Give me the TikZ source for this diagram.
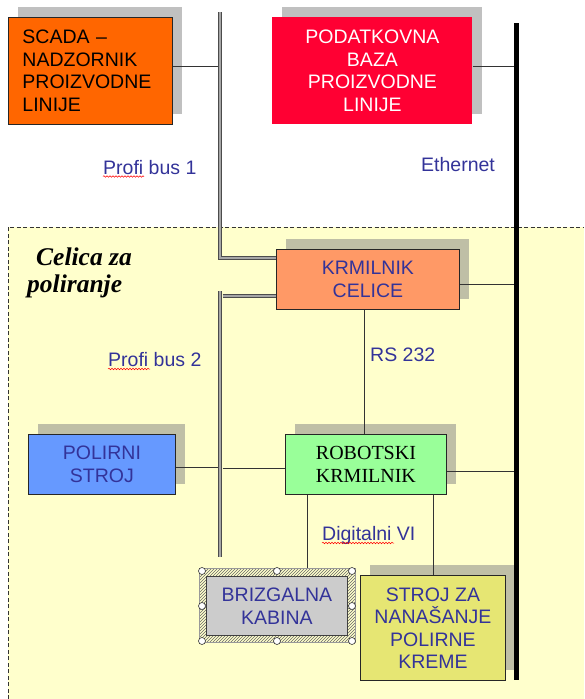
\documentclass[tikz,border=0pt]{standalone}
\usepackage{fontspec}
\setmainfont{Liberation Sans}
\newfontfamily\myserif{Liberation Serif}
\usetikzlibrary{shadows,patterns,decorations.pathmorphing}
\definecolor{bgyellow}{HTML}{FFFFCC}
\definecolor{shwhite}{HTML}{C0C0C0}
\definecolor{shyellow}{RGB}{191,191,166}
\definecolor{scadaor}{HTML}{FF6600}
\definecolor{podred}{HTML}{FF0033}
\definecolor{krmsal}{HTML}{FF9966}
\definecolor{polblue}{HTML}{6699FF}
\definecolor{robgreen}{HTML}{99FF99}
\definecolor{brizgray}{HTML}{CCCCCC}
\definecolor{strojyel}{RGB}{230,230,115}
\definecolor{txtblue}{HTML}{333399}
\begin{document}
\begin{tikzpicture}[x=1pt,y=-1pt,
  box/.style={draw=black!85, line width=0.9pt, inner sep=0pt, align=center,
    anchor=north west, text=txtblue, font=\fontsize{19.5}{22.5}\selectfont},
  shw/.style={drop shadow={shadow xshift=10pt, shadow yshift=10pt, fill=shwhite, opacity=1}},
  shy/.style={drop shadow={shadow xshift=10pt, shadow yshift=10pt, fill=shyellow, opacity=1}},
  lbl/.style={text=txtblue, inner sep=0pt, anchor=base west, font=\fontsize{19.5}{22.5}\selectfont},
  celfont/.style={inner sep=0pt, anchor=base west, font=\myserif\bfseries\itshape\fontsize{25.5}{28}\selectfont},
  bus/.style={draw=black!70, double=black!35, line width=1.1pt, double distance=1.8pt},
  conn/.style={draw=black!80, line width=1pt},
  squig/.style={draw=red, line width=0.5pt, decorate, decoration={snake, amplitude=0.8pt, segment length=3pt}},
  handle/.style={fill=white, draw=black!80, line width=0.6pt}]
\useasboundingbox (0,0) rectangle (584,699);
% cell background
\fill[bgyellow] (8,227) rectangle (584,699);
\draw[black!80, line width=0.9pt, dash pattern=on 4pt off 2.5pt] (8,699) -- (8,227) -- (584,227);

% boxes
\node[box, shw, fill=scadaor, text=black, align=left, text width=136pt,
  minimum width=164pt, minimum height=107pt] (scada) at (8,17)
  {SCADA –\\NADZORNIK\\PROIZVODNE\\LINIJE};
\node[box, shw, fill=podred, draw=none, text=white,
  minimum width=200pt, minimum height=107pt] (pod) at (272,17)
  {PODATKOVNA\\BAZA\\PROIZVODNE\\LINIJE};
\node[box, shy, fill=krmsal, minimum width=183pt, minimum height=60pt] (krm) at (276,249)
  {KRMILNIK\\CELICE};
\node[box, shy, fill=polblue, minimum width=147pt, minimum height=60pt] (pol) at (28,434)
  {POLIRNI\\STROJ};
\node[box, shy, fill=robgreen, text=black, font=\myserif\fontsize{20}{22.5}\selectfont,
  minimum width=161pt, minimum height=60pt] (rob) at (285,434)
  {ROBOTSKI\\KRMILNIK};
\node[box, shy, fill=strojyel, minimum width=145pt, minimum height=105pt] (stroj) at (360,575)
  {STROJ ZA\\NANAŠANJE\\POLIRNE\\KREME};
% selected (hatched) frame and the spray booth
\node[anchor=north west, inner sep=0pt, draw=black!40, line width=0.4pt,
  pattern=north east lines, pattern color=black!60,
  minimum width=156pt, minimum height=74pt] (brizsel) at (199,568) {};
\node[box, fill=brizgray, draw=black!75, minimum width=141pt, minimum height=59pt] (briz) at (206,576)
  {BRIZGALNA\\KABINA};

% labels
\node[lbl] (pb1) at (103,174) {Profi bus 1};
\node[lbl] (eth) at (421,171.5) {Ethernet};
\node[lbl] (pb2) at (108,366.5) {Profi bus 2};
\node[lbl] (rs232) at (370,361.5) {RS 232};
\node[lbl] (dig) at (322,540.5) {Digitalni VI};
\node[celfont] (cel1) at (36,265) {Celica za};
\node[celfont] (cel2) at (27,292) {poliranje};
\draw[squig] ([yshift=-2.5pt]pb1.base west) -- ++(41,0);
\draw[squig] ([yshift=-2.5pt]pb2.base west) -- ++(42,0);
\draw[squig] ([yshift=-2.5pt]dig.base west) -- ++(72,0);

% buses
\coordinate (b1t) at (220,12);
\coordinate (b1c) at (220,258);
\draw[bus] (b1t) -- (b1c) -- (b1c -| krm.west);
\coordinate (b2t) at (220,291);
\coordinate (b2b) at (220,557);
\draw[bus] (b2t) -- (b2b);
\coordinate (b2h) at (222.5,296);
\draw[bus] (b2h) -- (b2h -| krm.west);
\coordinate (et) at (516,23);
\coordinate (eb) at (516,680);
\draw[line width=5pt] (et) -- (eb);

% connectors
\coordinate (s1) at (218,66);
\draw[conn] (scada.east |- s1) -- (s1);
\coordinate (e1) at (513.5,66);
\draw[conn] (pod.east |- e1) -- (e1);
\coordinate (e2) at (513.5,284);
\draw[conn] (krm.east |- e2) -- (e2);
\coordinate (rsx) at (364,300);
\draw[conn] (krm.south -| rsx) -- (rob.north -| rsx);
\coordinate (p1) at (218,467);
\draw[conn] (pol.east |- p1) -- (p1);
\coordinate (p2) at (222.5,468);
\draw[conn] (p2) -- (rob.west |- p2);
\coordinate (e3) at (513.5,471);
\draw[conn] (rob.east |- e3) -- (e3);
\coordinate (d1) at (307,500);
\draw[conn] (rob.south -| d1) -- (brizsel.north -| d1);
\coordinate (d2) at (433,500);
\draw[conn] (rob.south -| d2) -- (stroj.north -| d2);

% selection handles
\foreach \p in {(202,571),(277,571),(352,571),(202,606),(352,606),(202,641),(277,641),(352,641)}
  \draw[handle] \p circle[radius=3.5];
\end{tikzpicture}
\end{document}
